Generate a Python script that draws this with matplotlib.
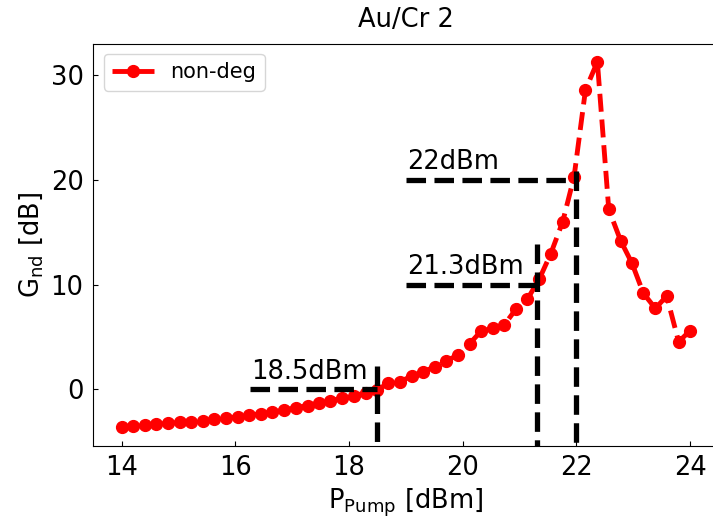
import matplotlib
matplotlib.use("Agg")
import matplotlib.pyplot as plt

# Pump power sweep (dBm) and measured non-degenerate gain (dB)
p_pump = [14.00, 14.20, 14.41, 14.61, 14.82, 15.02, 15.22, 15.43, 15.63, 15.84,
          16.04, 16.24, 16.45, 16.65, 16.86, 17.06, 17.27, 17.47, 17.67, 17.88,
          18.08, 18.29, 18.49, 18.69, 18.90, 19.10, 19.31, 19.51, 19.71, 19.92,
          20.12, 20.33, 20.53, 20.73, 20.94, 21.14, 21.35, 21.55, 21.76, 21.96,
          22.16, 22.37, 22.57, 22.78, 22.98, 23.18, 23.39, 23.59, 23.80, 24.00]
gain_nd = [-3.63, -3.52, -3.42, -3.33, -3.25, -3.16, -3.08, -2.98, -2.86, -2.74,
           -2.62, -2.48, -2.33, -2.17, -1.98, -1.75, -1.55, -1.30, -1.08, -0.85,
           -0.60, -0.35, -0.05, 0.57, 0.73, 1.27, 1.68, 2.16, 2.73, 3.27,
           4.35, 5.59, 5.82, 6.14, 7.68, 8.62, 10.55, 12.95, 16.00, 20.29,
           28.56, 31.26, 17.18, 14.18, 12.02, 9.16, 7.73, 8.90, 4.54, 5.59]

# Reference markers: pump level, gain level, start of the horizontal guide,
# top of the vertical guide
marker_pump = [18.5, 21.3, 22.0]
marker_gain = [0.0, 10.0, 20.0]
marker_hstart = [16.25, 19.0, 19.0]
marker_vtop = [2.2, 13.9, 20.8]
marker_labels = ["18.5dBm", "21.3dBm", "22dBm"]

fs = 18.5
fig = plt.figure(figsize=(7.13, 5.24), dpi=100)
ax = fig.add_axes([0.1309, 0.1496, 0.8767, 0.7673])

ax.plot(p_pump, gain_nd, color="red", linestyle="--", linewidth=3.5,
        marker="o", markersize=8.5, label="non-deg")

ymin = -5.37
for xp, yg, xs, yt, lab in zip(marker_pump, marker_gain, marker_hstart,
                               marker_vtop, marker_labels):
    ax.plot([xs, xp], [yg, yg], color="black", linestyle="--", linewidth=3.8)
    ax.plot([xp, xp], [yt, ymin - 1], color="black", linestyle="--", linewidth=3.8)
    ax.text(xs + 0.03, yg + 1.0, lab, fontsize=fs, va="baseline", ha="left")

ax.set_xlim(13.5, 24.5)
ax.set_ylim(ymin, 33.0)
ax.set_xticks([14, 16, 18, 20, 22, 24])
ax.set_yticks([0, 10, 20, 30])
ax.tick_params(direction="in", labelsize=fs, pad=7)

ax.set_xlabel(r"P$_{\mathregular{Pump}}$ [dBm]", fontsize=fs, labelpad=4)
ax.set_ylabel(r"G$_{\mathregular{nd}}$ [dB]", fontsize=fs, labelpad=4)
ax.set_title("Au/Cr 2", fontsize=fs, pad=12)
ax.legend(loc="upper left", fontsize=15)

fig.savefig("out.png", dpi=100)
